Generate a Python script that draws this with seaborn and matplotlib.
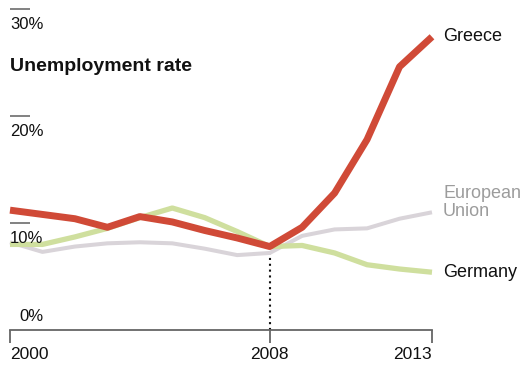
import matplotlib
matplotlib.use("Agg")
import matplotlib.pyplot as plt
import pandas as pd
import seaborn as sns

# Unemployment rate (%), 2000-2013
years = list(range(2000, 2014))
greece = [11.2, 10.8, 10.4, 9.6, 10.6, 10.1, 9.3, 8.6, 7.8, 9.6, 12.8, 17.8, 24.6, 27.4]
germany = [8.0, 8.0, 8.7, 9.5, 10.5, 11.4, 10.5, 9.2, 7.8, 7.9, 7.2, 6.1, 5.7, 5.4]
eu = [8.2, 7.3, 7.8, 8.1, 8.2, 8.1, 7.6, 7.0, 7.2, 8.8, 9.4, 9.5, 10.4, 11.0]

series_names = ["European\nUnion", "Germany", "Greece"]
y_ticks = [0, 10, 20, 30]
y_tick_labels = ["0%", "10%", "20%", "30%"]
x_ticks = [2000, 2008, 2013]
x_tick_labels = ["2000", "2008", "2013"]
marker_year = 2008
title = "Unemployment rate"

sns.set_theme(style="white")
plt.rcParams["font.family"] = ["Liberation Sans", "DejaVu Sans"]

df = pd.DataFrame({"year": years, series_names[0]: eu,
                   series_names[1]: germany, series_names[2]: greece})
long_df = df.melt(id_vars="year", var_name="series", value_name="rate")

styles = {
    series_names[0]: dict(color="#d9d4d9", lw=2.9, text="#9c9c9c", dy=7.0),
    series_names[1]: dict(color="#cfdf9e", lw=3.8, text="#111111", dy=0.0),
    series_names[2]: dict(color="#d04a37", lw=5.0, text="#111111", dy=0.5),
}

fig = plt.figure(figsize=(5.22, 3.65), dpi=100)
ax = fig.add_axes([0, 0, 1, 1])
ax.set_xlim(1999.692, 2015.773)
ax.set_ylim(-3.27, 30.84)

# dotted marker down from the 2008 turning point
turn = greece[years.index(marker_year)]
ax.vlines(marker_year, 0, turn, colors="#111111", linewidth=1.5,
          linestyles=(0, (1, 1.8)), zorder=1)

for name in series_names:
    st = styles[name]
    sub = long_df[long_df["series"] == name]
    sns.lineplot(data=sub, x="year", y="rate", ax=ax, color=st["color"],
                 linewidth=st["lw"], legend=False, zorder=2,
                 solid_capstyle="butt", solid_joinstyle="round")
    ax.annotate(name, (sub["year"].iloc[-1], sub["rate"].iloc[-1]),
                xytext=(8, st["dy"]), textcoords="offset points",
                ha="left", va="center", fontsize=13, color=st["text"],
                linespacing=1.1)

# axes decoration
for side in ["top", "right", "left"]:
    ax.spines[side].set_visible(False)
ax.spines["bottom"].set_position(("data", 0))
ax.spines["bottom"].set_bounds(x_ticks[0], x_ticks[-1])
ax.spines["bottom"].set_color("#666666")
ax.spines["bottom"].set_linewidth(1.3)
ax.spines["left"].set_position(("data", x_ticks[0]))

ax.set_xticks(x_ticks)
ax.set_xticklabels(x_tick_labels)
ax.tick_params(axis="x", direction="out", length=9.5, width=1.3,
               color="#666666", pad=2.5, labelsize=12.5, labelcolor="#111111",
               bottom=True)
xl = ax.get_xticklabels()
xl[0].set_ha("left")
xl[-1].set_ha("right")

ax.set_yticks([v for v in y_ticks if v != 0])
ax.tick_params(axis="y", direction="in", length=14.5, width=1.3,
               color="#777777", labelleft=False, left=True)
for v, lab in zip(y_ticks, y_tick_labels):
    if v == 0:
        ax.annotate(lab, (x_ticks[0], v), xytext=(24, 4.5), textcoords="offset points",
                    ha="right", va="bottom", fontsize=12, color="#111111")
    else:
        ax.annotate(lab, (x_ticks[0], v), xytext=(24, -6), textcoords="offset points",
                    ha="right", va="top", fontsize=12, color="#111111")

ax.set_xlabel("")
ax.set_ylabel("")
ax.text(x_ticks[0], 24.6, title, fontsize=14, fontweight="bold",
        ha="left", va="center", color="#111111")

fig.savefig("out.png", dpi=100)
